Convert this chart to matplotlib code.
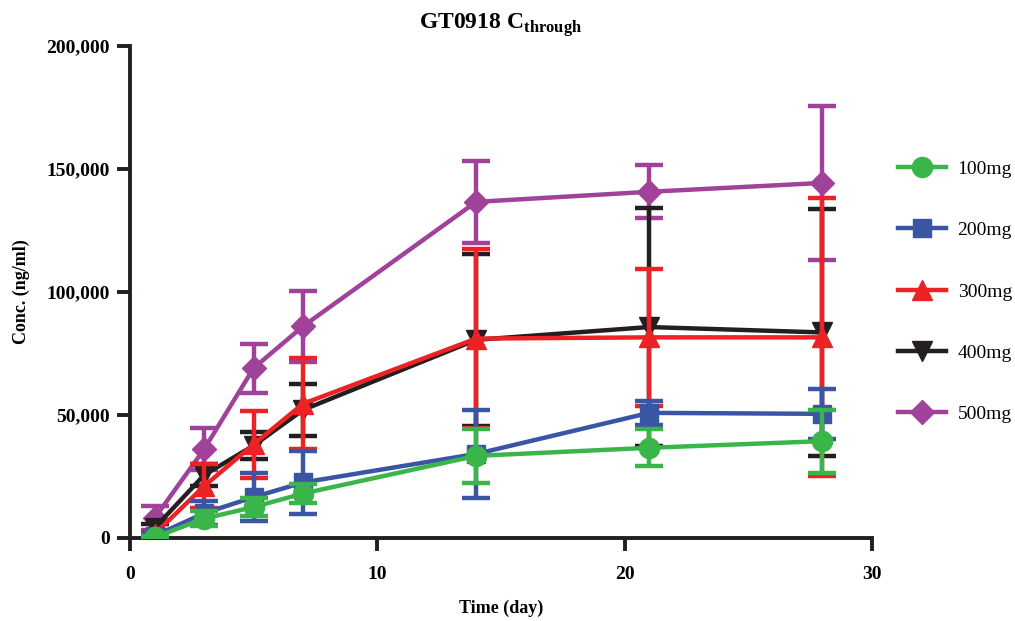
import numpy as np
import matplotlib
matplotlib.use("Agg")
import matplotlib.pyplot as plt
import matplotlib.ticker as ticker

plt.rcParams['font.family'] = ['Liberation Serif', 'DejaVu Serif']
plt.rcParams['mathtext.fontset'] = 'custom'
plt.rcParams['mathtext.rm'] = 'Liberation Serif:bold'
plt.rcParams['mathtext.bf'] = 'Liberation Serif:bold'

days = [1, 3, 5, 7, 14, 21, 28]
doses = ['100mg', '200mg', '300mg', '400mg', '500mg']

# mean trough concentration (ng/ml) and SD per dose group
mean_100 = [200, 7800, 12500, 18000, 33300, 36600, 39300]
sd_100 = [500, 3000, 3500, 4000, 11000, 7500, 12800]
mean_200 = [800, 10000, 16500, 22500, 34100, 50800, 50400]
sd_200 = [1000, 5000, 9800, 12700, 17900, 5000, 10200]
mean_300 = [1500, 21000, 38000, 54500, 81000, 81500, 81500]
sd_300 = [1000, 9000, 13500, 18500, 36500, 28000, 56500]
mean_400 = [4000, 25500, 37500, 52000, 80500, 85700, 83500]
sd_400 = [1500, 4500, 5500, 10500, 35000, 48400, 50200]
mean_500 = [8000, 36000, 69000, 86000, 136600, 140700, 144300]
sd_500 = [5000, 8500, 10000, 14500, 16700, 10800, 31300]

means = [mean_100, mean_200, mean_300, mean_400, mean_500]
sds = [sd_100, sd_200, sd_300, sd_400, sd_500]
colors = ['#3ab54a', '#3a55a4', '#ed2224', '#231f20', '#a0429a']
markers = ['o', 's', '^', 'v', 'D']
msizes = [14.5, 13.5, 15, 15, 12.5]

fig = plt.figure(figsize=(10.15, 6.21), dpi=100)
ax = fig.add_axes([0.128, 0.134, 0.731, 0.792])

for i in reversed(range(5)):
    ax.errorbar(days, means[i], yerr=sds[i], color=colors[i], marker=markers[i],
                markersize=msizes[i], lw=3.2, elinewidth=3.2, capsize=10,
                capthick=3.2, zorder=2 + (5 - i))

ax.set_xlim(0, 30)
ax.set_ylim(0, 200000)
ax.set_xticks([0, 10, 20, 30])
ax.set_yticks([0, 50000, 100000, 150000, 200000])
ax.yaxis.set_major_formatter(ticker.FuncFormatter(lambda v, p: f'{int(v):,}'))
for s in ['top', 'right']:
    ax.spines[s].set_visible(False)
for s in ['left', 'bottom']:
    ax.spines[s].set_linewidth(2.8)
    ax.spines[s].set_color('#231f20')
ax.tick_params(width=2.8, length=9.5, direction='out', color='#231f20', labelsize=14)
ax.tick_params(axis='x', pad=11)
ax.tick_params(axis='y', pad=5)
for lab in ax.get_xticklabels() + ax.get_yticklabels():
    lab.set_fontweight('bold')

ax.set_xlabel('Time (day)', fontsize=13, fontweight='bold', labelpad=12)
ax.set_ylabel('Conc. (ng/ml)', fontsize=13, fontweight='bold', labelpad=12)
ax.set_title(r'GT0918 C$_{\mathrm{through}}$', fontsize=17, fontweight='bold', pad=12)

leg_handles = [plt.Line2D([], [], color=colors[i], marker=markers[i], markersize=msizes[i],
                          lw=3.2) for i in range(5)]
fig.legend(leg_handles, doses, loc='upper left', bbox_to_anchor=(0.885, 0.742),
           frameon=False, fontsize=14, labelspacing=2.25, handlelength=2.45,
           handletextpad=0.6, borderaxespad=0, borderpad=0)

fig.savefig('out.png', dpi=100)
